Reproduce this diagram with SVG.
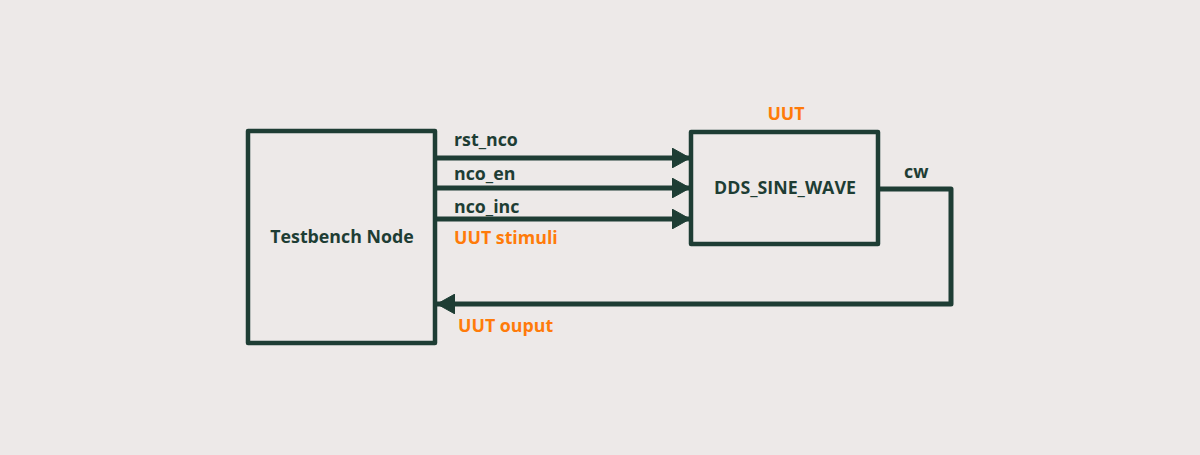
<svg xmlns="http://www.w3.org/2000/svg" width="1200" height="455" viewBox="0 0 1200 455">
<style>
.box{fill:none;stroke:#1e3d34;stroke-width:4.5;stroke-linejoin:round}
.wire{fill:none;stroke:#1e3d34;stroke-width:5;stroke-linejoin:round}
.t{font-family:"Open Sans","Noto Sans",sans-serif;font-weight:bold;font-size:17.8px;fill:#1e3d34}
.o{fill:#ff7b0a}
.m{text-anchor:middle}
</style>
<defs>
<marker id="ah" viewBox="0 0 18 20" refX="18" refY="10" markerWidth="18" markerHeight="20" markerUnits="userSpaceOnUse" orient="auto">
<path d="M0,0 L18,10 L0,20 Z" fill="#1e3d34" stroke="#1e3d34" stroke-width="1" stroke-linejoin="round"/>
</marker>
</defs>
<rect width="1200" height="455" fill="#ede9e8"/>
<g id="connectors">
<line class="wire" x1="435" y1="158" x2="690" y2="158" marker-end="url(#ah)"/>
<line class="wire" x1="435" y1="188" x2="690" y2="188" marker-end="url(#ah)"/>
<line class="wire" x1="435" y1="219" x2="690" y2="219" marker-end="url(#ah)"/>
<polyline class="wire" points="878,189 951,189 951,304 437,304" marker-end="url(#ah)"/>
<text class="t" x="454" y="146">rst_nco</text>
<text class="t" x="454" y="180">nco_en</text>
<text class="t" x="454" y="213">nco_inc</text>
<text class="t o" x="454" y="244">UUT stimuli</text>
<text class="t" x="904" y="178">cw</text>
<text class="t o" x="458" y="332">UUT ouput</text>
</g>
<g id="testbench">
<rect class="box" x="248" y="131" width="187" height="212"/>
<text class="t m" x="342" y="243">Testbench Node</text>
</g>
<g id="dds">
<rect class="box" x="691" y="132" width="187" height="112"/>
<text class="t m" x="785" y="194">DDS_SINE_WAVE</text>
<text class="t o m" x="786" y="120">UUT</text>
</g>
</svg>
